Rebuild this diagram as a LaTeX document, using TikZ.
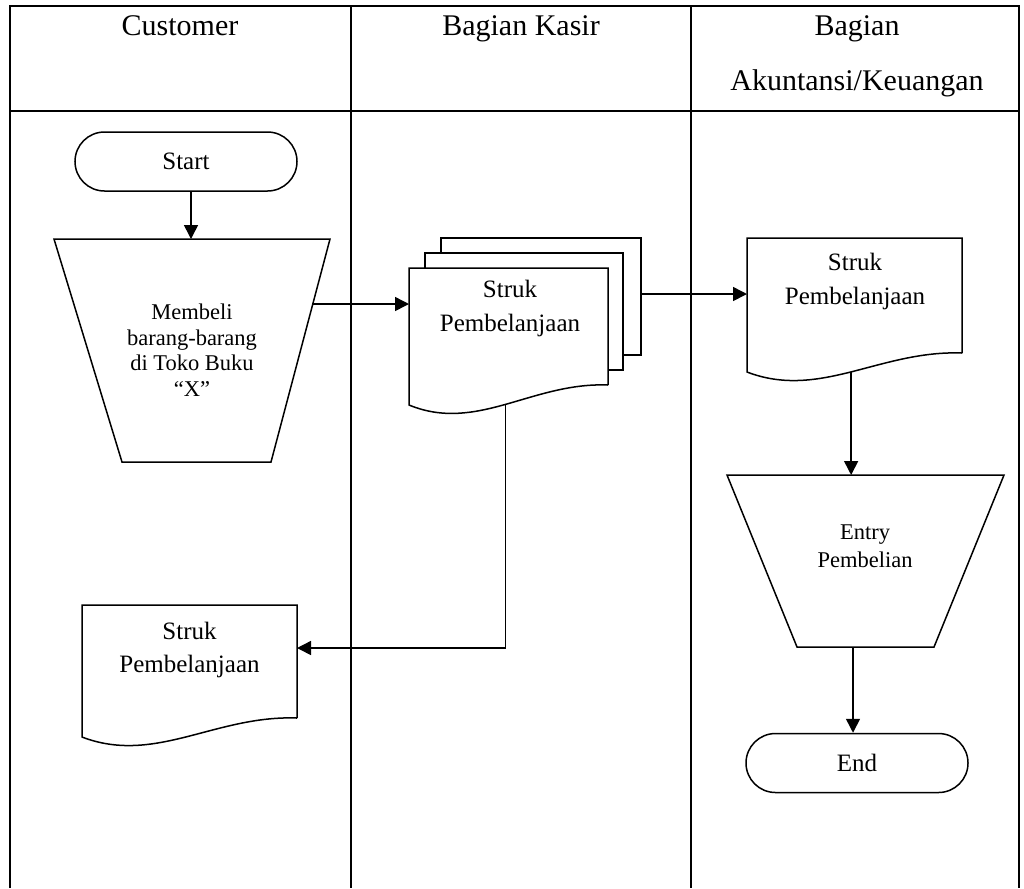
\documentclass[tikz,border=0pt]{standalone}
\usepackage{fontspec}
\setmainfont{Liberation Serif}
\usetikzlibrary{arrows.meta}

\tikzset{
  lane/.style={line width=0.8pt},
  shp/.style={line width=0.6pt},
  flow/.style={line width=0.6pt,-{Triangle[length=5.6pt,width=5.6pt]}},
  term/.style={draw,line width=0.6pt,rounded corners=11.8pt,minimum width=88.8pt,
    minimum height=23.6pt,inner sep=0pt,font=\fontsize{10}{12}\selectfont},
  doctext/.style={align=center,font=\fontsize{10}{13.3}\selectfont},
  traptext/.style={align=center,font=\fontsize{9}{10.2}\selectfont},
  head/.style={font=\fontsize{12}{14}\selectfont,text height=0.7em,text depth=0.22em}
}

\begin{document}
\begin{tikzpicture}[x=0.4pt,y=-0.4pt]
  \useasboundingbox (0,0) rectangle (1024,888);

  \draw[lane] (10,888) -- (10,6) -- (1019,6) -- (1019,888);
  \draw[lane] (351,6) -- (351,888);
  \draw[lane] (691,6) -- (691,888);
  \draw[lane] (10,111) -- (1019,111);
  \node (hcust) [head] at (180,29) {Customer};
  \node (hkasir) [head] at (521,29) {Bagian Kasir};
  \node (hakun1) [head] at (857,29) {Bagian};
  \node (hakun2) [head] at (857,84) {Akuntansi/Keuangan};

  \node (start) [term] at (186,161.5) {Start};

  \draw[shp] (54,239) -- (330,239) -- (271,462) -- (122,462) -- cycle;
  \path (191,239) coordinate (mtop) (313,304) coordinate (mright);
  \node (beli) [traptext] at (192,350) {Membeli\\barang-barang\\di Toko Buku\\“X”};

  \draw[shp] (441,253) -- (441,238) -- (641,238) -- (641,355) -- (623,355);
  \draw[shp] (425,268) -- (425,253) -- (623,253) -- (623,370) -- (608,370);
  \draw[shp] (608,385) -- (608,268) -- (409,268) -- (409,405)
    .. controls (477,433) and (532,382) .. (608,385) coordinate[pos=.5] (sbot);
  \path (409,304) coordinate (sin) (641,294) coordinate (sout);
  \node (struk1) [doctext] at (510,308.5) {Struk\\Pembelanjaan};

  \draw[shp] (962,353) -- (962,238) -- (747,238) -- (747,372)
    .. controls (820,400) and (880,350) .. (962,353) coordinate[pos=.5] (rbot);
  \path (747,294) coordinate (rin);
  \node (struk2) [doctext] at (855,281.5) {Struk\\Pembelanjaan};

  \draw[shp] (297,718) -- (297,605) -- (82,605) -- (82,737)
    .. controls (155,765) and (215,715) .. (297,718);
  \path (297,648) coordinate (lin);
  \node (struk3) [doctext] at (189.5,650) {Struk\\Pembelanjaan};

  \draw[shp] (727,475) -- (1004,475) -- (934,647) -- (797,647) -- cycle;
  \path (865,475) coordinate (etop) (853,647) coordinate (ebot);
  \node (entry) [traptext,font=\fontsize{9}{11.2}\selectfont] at (865,546) {Entry\\Pembelian};

  \node (fin) [term] at (857,763) {End};

  \draw[flow] (start.south -| mtop) -- (mtop);
  \draw[flow] (mright) -- (sin);
  \draw[flow] (sout) -- (rin);
  \draw[flow] (sbot) |- (lin);
  \draw[flow] (rbot) -- (rbot |- etop);
  \draw[flow] (ebot) -- (ebot |- fin.north);
\end{tikzpicture}
\end{document}
